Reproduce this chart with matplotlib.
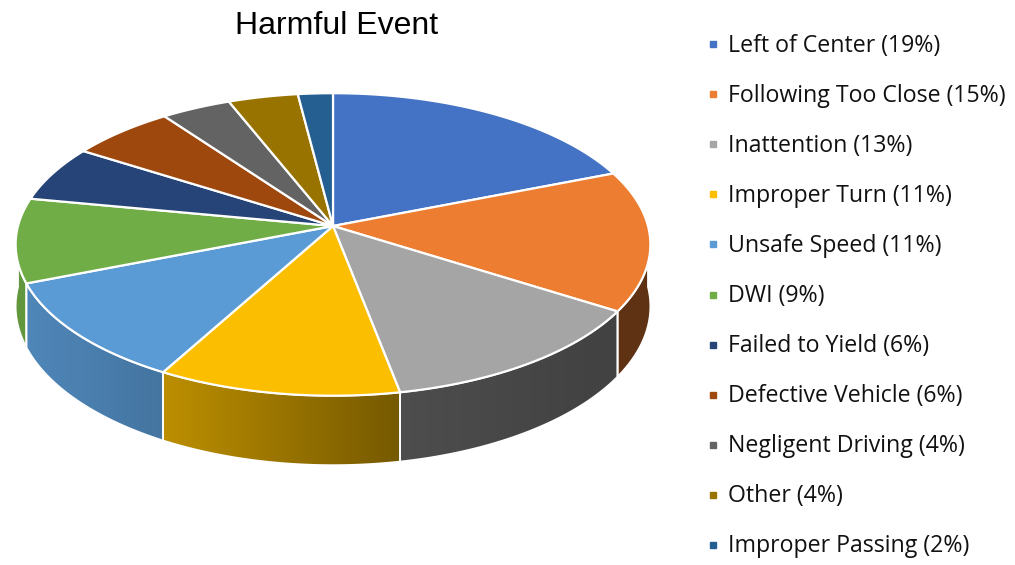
import numpy as np
import matplotlib.pyplot as plt
from matplotlib.patches import Polygon
from matplotlib.colors import to_rgb

# data
causes = ["Left of Center", "Following Too Close", "Inattention", "Improper Turn",
          "Unsafe Speed", "DWI", "Failed to Yield", "Defective Vehicle",
          "Negligent Driving", "Other", "Improper Passing"]
percents = [19, 15, 13, 11, 11, 9, 6, 6, 4, 4, 2]
colors = ["#4472C4", "#ED7D31", "#A5A5A5", "#FBBE00", "#5B9BD5", "#70AD47",
          "#264478", "#9E480E", "#636363", "#997300", "#255E91"]

# layout of the fake 3d pie (pixels)
CX, CY = 333, 226
R, RB = 315, 149
K = 0.122        # perspective
DEPTH = 61

def proj(t, z=0.0):
    s, c = np.sin(t), np.cos(t)
    w = 1 + K * s
    return CX + R * c / w, CY + (-RB * s + DEPTH * z) / w

# wall shading as function of x position
shade_x = [15, 155, 400, 600, 660]
shade_v = [0.88, 0.76, 0.47, 0.40, 0.40]

fig = plt.figure(figsize=(10.15, 5.65), dpi=100)
ax = fig.add_axes([0, 0, 1, 1])

fr = np.array(percents) / sum(percents)
cum = np.concatenate([[0], np.cumsum(fr)])
starts = np.radians(90 - 360 * cum[:-1])
ends = np.radians(90 - 360 * cum[1:])

xs = np.linspace(0, 1015, 1015)
shade = np.interp(xs, shade_x, shade_v)

# side walls first (front half only)
for a0, a1, col in zip(starts, ends, colors):
    lo = max(a1, -np.pi)
    hi = min(a0, 0.0)
    if lo >= hi:
        continue
    t = np.linspace(lo, hi, 80)
    tx, ty = proj(t, 0)
    bx, by = proj(t[::-1], 1)
    pts = np.column_stack([np.concatenate([tx, bx]), np.concatenate([ty, by])])
    poly = Polygon(pts, closed=True, facecolor="none", edgecolor="none")
    ax.add_patch(poly)
    rgb = np.array(to_rgb(col))
    img = (shade[:, None] * rgb[None, :])[None, :, :]
    im = ax.imshow(img, extent=(0, 1015, 565, 0), aspect="auto", zorder=1)
    im.set_clip_path(poly)
    ax.add_patch(Polygon(pts, closed=True, facecolor="none", edgecolor="white",
                         lw=1.3, zorder=2))

# top faces
for a0, a1, col in zip(starts, ends, colors):
    t = np.linspace(a0, a1, 120)
    x, y = proj(t, 0)
    pts = np.column_stack([np.concatenate([[CX], x]), np.concatenate([[CY], y])])
    ax.add_patch(Polygon(pts, closed=True, facecolor=col, edgecolor="white",
                         lw=1.6, joinstyle="round", zorder=3))

ax.text(337, 26, "Harmful Event", ha="center", va="center", fontsize=23,
        family="Liberation Sans", color="black")

# legend
for i, (name, p, col) in enumerate(zip(causes, percents, colors)):
    y = 44 + 50.1 * i
    ax.plot(713, y, marker="s", ms=5, color=col, linestyle="none")
    ax.text(728, y + 1.5, f"{name} ({p}%)", ha="left", va="center", fontsize=16.7,
            family="Open Sans", color="#111111")

ax.set_xlim(0, 1015)
ax.set_ylim(565, 0)
ax.axis("off")
fig.savefig("out.png", dpi=100)
